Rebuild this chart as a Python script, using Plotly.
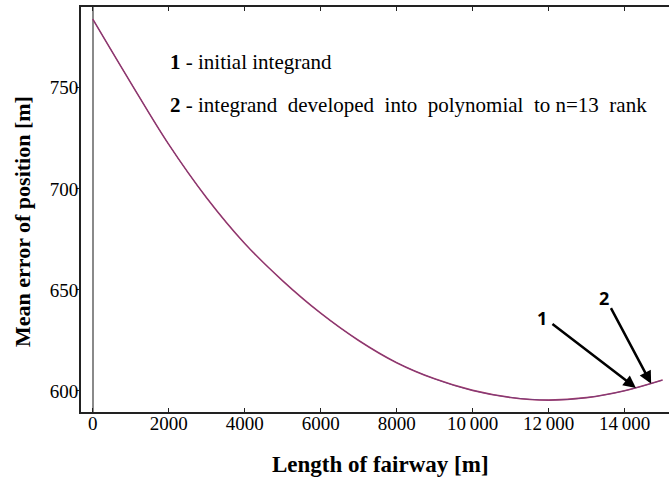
import plotly.graph_objects as go

# Data
length_m = [0, 1000, 2000, 3000, 4000, 5000, 6000, 7000, 8000, 9000,
            10000, 11000, 12000, 13000, 14000, 15000]
err_initial = [784, 752.5, 722, 695.5, 673, 654.5, 638.5, 625, 614, 606,
               600.3, 596.8, 595.5, 596.7, 600.1, 605.4]
err_poly = [784, 752.5, 722, 695.5, 673, 654.5, 638.5, 625, 614, 606,
            600.3, 596.8, 595.5, 596.7, 600.1, 605.4]

x_tickvals = [0, 2000, 4000, 6000, 8000, 10000, 12000, 14000]
x_ticktext = ["0", "2000", "4000", "6000", "8000", "10\u2009000", "12\u2009000", "14\u2009000"]
y_tickvals = [600, 650, 700, 750]

serif = "Liberation Serif, Times New Roman, serif"

fig = go.Figure()
fig.add_trace(go.Scatter(x=length_m, y=err_initial, mode="lines", line_shape="spline",
                         line=dict(color="#b0406a", width=1.6), showlegend=False))
fig.add_trace(go.Scatter(x=length_m, y=err_poly, mode="lines", line_shape="spline",
                         line=dict(color="#7a3a7a", width=1.0), showlegend=False))

fig.update_layout(
    width=669, height=477,
    margin=dict(l=81, r=0, t=7, b=65),
    paper_bgcolor="white", plot_bgcolor="white",
    font=dict(family=serif, color="black", size=19),
    xaxis=dict(range=[-310, 15170], tickvals=x_tickvals, ticktext=x_ticktext,
               automargin=False, ticklabelstandoff=-7,
               showgrid=False, zeroline=True, zerolinecolor="#8a8a8a", zerolinewidth=1.5,
               showline=True, linecolor="#222", linewidth=2, mirror="ticks",
               ticks="inside", ticklen=4, tickcolor="#222",
               tickfont=dict(family=serif, size=19)),
    yaxis=dict(range=[589.6, 790], tickvals=y_tickvals,
               automargin=False, ticklabelstandoff=-6,
               showgrid=False, zeroline=False,
               showline=True, linecolor="#222", linewidth=2, mirror=False,
               ticks="outside", ticklen=3, tickcolor="#222",
               tickfont=dict(family=serif, size=19)),
)

# Axis titles placed manually
fig.add_annotation(x=(380 - 81) / 588, y=(412 - 464) / 405, xref="paper", yref="paper",
                   xanchor="center", yanchor="middle",
                   text="<b>Length of fairway [m]</b>", showarrow=False,
                   font=dict(family=serif, size=23))
fig.add_annotation(x=(22 - 81) / 588, y=(412 - 222) / 405, xref="paper", yref="paper",
                   xanchor="center", yanchor="middle", textangle=-90,
                   text="<b>Mean error of position [m]</b>", showarrow=False,
                   font=dict(family=serif, size=22))

# Legend-like text
fig.add_annotation(x=1990, y=762.9, xref="x", yref="y", xanchor="left", yanchor="middle",
                   text="<b>1</b> - initial integrand", showarrow=False,
                   font=dict(family=serif, size=21))
fig.add_annotation(x=1990, y=741.6, xref="x", yref="y", xanchor="left", yanchor="middle",
                   text="<b>2</b> - integrand  developed  into  polynomial  to n=13  rank",
                   showarrow=False, font=dict(family=serif, size=21))

# Arrows
fig.add_annotation(x=14300, y=601.5, xref="x", yref="y", text="", showarrow=True,
                   ax=-85, ay=-65, arrowhead=2, arrowsize=1, arrowwidth=2.5, arrowcolor="black")
fig.add_annotation(x=14700, y=603.6, xref="x", yref="y", text="", showarrow=True,
                   ax=-41, ay=-77, arrowhead=2, arrowsize=1, arrowwidth=2.5, arrowcolor="black")
fig.add_annotation(x=11830, y=636.1, xref="x", yref="y", text="<b>1</b>", showarrow=False,
                   font=dict(family="Open Sans, Arial, sans-serif", size=18))
fig.add_annotation(x=13460, y=646, xref="x", yref="y", text="<b>2</b>", showarrow=False,
                   font=dict(family="Open Sans, Arial, sans-serif", size=18))

fig.write_html("out.html", config={"displayModeBar": False},
               post_script="document.body.style.margin='0';document.body.style.overflow='hidden';")
